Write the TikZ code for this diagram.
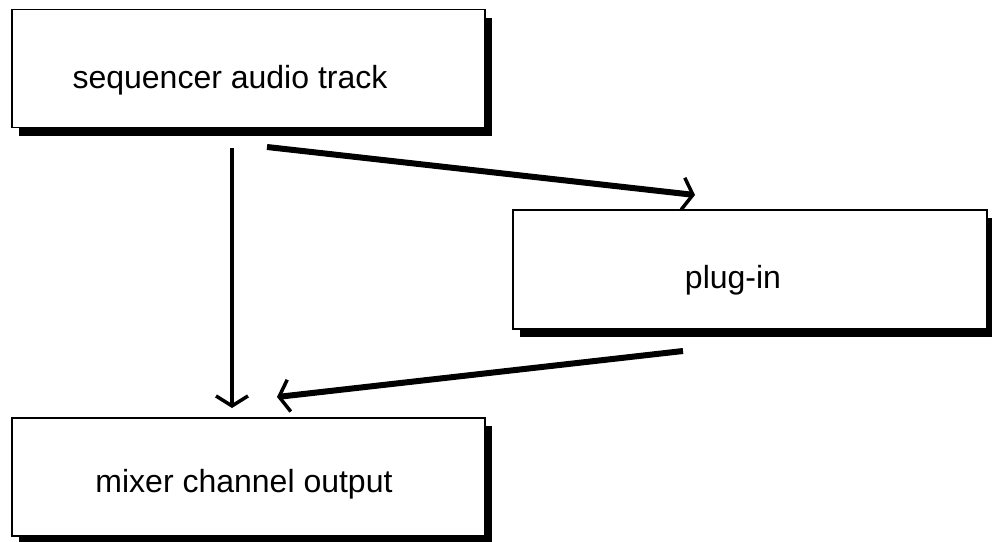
\documentclass[tikz,border=0pt]{standalone}
\usepackage{fontspec}
\setmainfont{Liberation Sans}
\usetikzlibrary{arrows.meta,shadows}
\begin{document}
\begin{tikzpicture}[x=1pt,y=-1pt,
  box/.style={draw=black,line width=1.6pt,fill=white,rectangle,inner sep=0pt,
    drop shadow={shadow xshift=7pt,shadow yshift=-8pt,fill=black,opacity=1}},
  lbl/.style={font=\fontsize{32}{34}\selectfont,inner sep=0pt},
  conn/.style={line width=6pt,-{Straight Barb[length=10pt,width=32pt,line width=3.5pt]}}]
\useasboundingbox (0,0) rectangle (992,541);
\node[box,minimum width=473pt,minimum height=118pt] (seq) at (248.5,68.5) {};
\node[box,minimum width=474pt,minimum height=119pt] (plug) at (750,269.5) {};
\node[box,minimum width=473pt,minimum height=118pt] (mix) at (248.5,477) {};
\node[lbl] (seqt) at (230,80) {sequencer audio track};
\node[lbl] (plugt) at (733,280) {plug-in};
\node[lbl] (mixt) at (244,484) {mixer channel output};
\coordinate (a1s) at (232,148);
\coordinate (a1e) at (232,408);
\coordinate (a2s) at (267,147);
\coordinate (a2e) at (695,195);
\coordinate (a3s) at (683,351);
\coordinate (a3e) at (277,397);
\draw[conn,line width=4.5pt] (a1s) -- (a1e);
\draw[conn] (a2s) -- (a2e);
\draw[conn] (a3s) -- (a3e);
\end{tikzpicture}
\end{document}
